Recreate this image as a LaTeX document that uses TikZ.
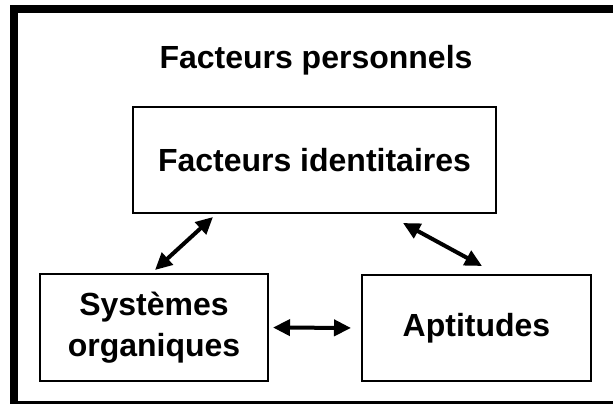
\documentclass[tikz,border=0pt]{standalone}
\usepackage{fontspec}
\setmainfont{Liberation Sans}
\usepackage{tikz}
\usetikzlibrary{arrows.meta}
\definecolor{ink}{HTML}{000000}

\tikzset{
	box/.style={draw=ink, line width=2pt, align=center,
		font=\fontsize{32}{41}\selectfont\bfseries},
	link/.style={ink, line width=4pt,
		{Triangle[length=17pt,width=16pt]}-{Triangle[length=17pt,width=16pt]}}
}

\begin{document}
\begin{tikzpicture}[x=1pt,y=-1pt]

\useasboundingbox (0,0) rectangle (613,404);

% outer frame, cut at right and bottom
\draw[ink, line width=8pt] (14,9) rectangle (620,405);

\node[font=\fontsize{32}{38}\selectfont\bfseries, anchor=base] (title) at (316,69) {Facteurs personnels};

\node[box, minimum width=363pt, minimum height=106pt] (ident) at (314.5,160) {Facteurs identitaires};
\node[box, minimum width=228pt, minimum height=107pt] (sys) at (154,327.5) {Systèmes\\organiques};
\node[box, minimum width=229pt, minimum height=106pt] (apt) at (476.5,328) {Aptitudes};

\coordinate (a1) at (155,270);
\coordinate (b1) at (213,217);
\coordinate (a2) at (403,223);
\coordinate (b2) at (482,266);

\draw[link] (a1) -- (b1);
\draw[link] (a2) -- (b2);
\draw[link, shorten <=4pt, shorten >=10pt] (sys.east) -- (apt.west);

\end{tikzpicture}
\end{document}
